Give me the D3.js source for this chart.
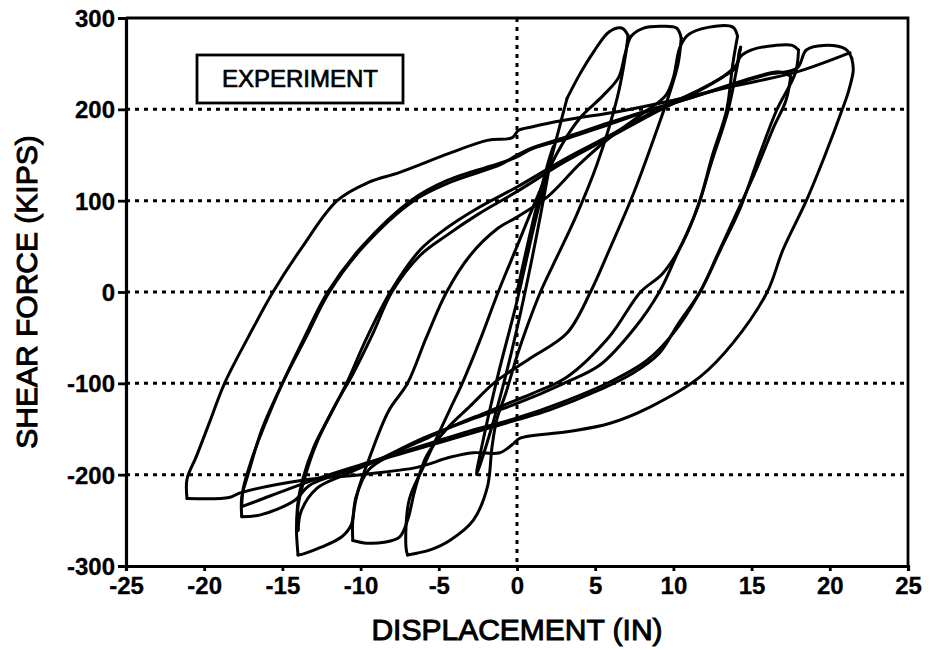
<!DOCTYPE html>
<html><head><meta charset="utf-8">
<script src="https://cdn.jsdelivr.net/npm/d3@7"></script>
<style>
body{margin:0;background:#fff;}
text{font-family:"Liberation Sans",Arial,Helvetica,sans-serif;fill:#000;}
</style></head>
<body><svg id="chart" width="931" height="650"></svg>
<script>
// ---- data (displacement in, shear force kips) ----
const xTicks = [-25,-20,-15,-10,-5,0,5,10,15,20,25];
const yTicks = [-300,-200,-100,0,100,200,300];
const gridY = [-200,-100,0,100,200];
const gridX = [0];
const legendLabel = "EXPERIMENT";
const xTitle = "DISPLACEMENT (IN)";
const yTitle = "SHEAR FORCE (KIPS)";

const smallCycles = [[0,0],[1.2,90],[2.3,160],[2.0,130],[1.0,40],[0,-40],[-1,-110],[-2,-170],[-2.6,-200],[-2.2,-165],[-1.2,-90],[0,-10],[1.2,80],[2.4,160],[3.2,212]];
const e_up1 = [[3.2,212],[4,238],[4.9,263],[5.9,285],[6.7,289],[7.1,281]];
const e_down1 = [[7.1,281],[6.9,255],[6.4,212],[5.1,139],[3.8,84],[2.6,40],[1.5,0],[0.6,-40],[0,-70],[-0.7,-110],[-1.3,-140],[-1.6,-170],[-1.9,-214],[-2.8,-250],[-4.3,-272],[-5.5,-282],[-6.4,-286],[-7,-288]];
const e_up2 = [[-7,-288],[-7.1,-279],[-6.9,-228],[-6,-192],[-4.3,-129],[-3.5,-100],[-2.3,-50],[-1.2,0],[0,50],[1.2,100],[2.5,150],[4,190],[5.5,215],[6.5,235],[6.9,260],[7.3,280],[8.1,289],[9.3,291],[10.2,289],[10.5,278]];
const d_down = [[10.5,278],[10.3,250],[9.8,220],[9,180],[7.5,110],[5.9,46],[4.7,0],[3.2,-45],[1,-71],[0,-82],[-1.5,-100],[-3,-125],[-4.5,-150],[-5.8,-180],[-6.5,-215],[-7,-250],[-7.5,-268],[-8.5,-274],[-9.6,-275],[-10.5,-272]];
const d_up = [[-10.5,-272],[-10.5,-250],[-10.2,-220],[-9.4,-180],[-8.2,-130],[-7,-100],[-5.8,-50],[-4.5,0],[-3,40],[-1.2,70],[0,82],[2,105],[4,140],[6,170],[8,195],[9.5,215],[10,235],[10.4,267],[10.9,281],[12.3,290],[13.8,290],[14.1,280]];
const c_down1 = [[14.1,280],[13.8,250],[13.4,199],[12.5,150],[11.7,101],[10.6,54],[9.3,20],[7.9,0],[5.9,-49],[3.2,-93],[1,-111],[0,-118],[-2,-132],[-4,-146],[-6,-162],[-8,-178],[-9.5,-195],[-10.3,-225],[-10.6,-255],[-11.2,-268],[-12.6,-280],[-13.7,-287],[-14,-288]];
const c_up1 = [[-14,-288],[-14.1,-260],[-14,-230],[-13.7,-205],[-13,-170],[-11.8,-130],[-10.9,-100],[-9.6,-50],[-8.1,0],[-6.2,46],[-4.5,70],[-2.5,92],[0,115],[3,145],[6,172],[9,200],[11.5,220],[13.2,236],[14,246],[14.2,262],[14.3,268]];
const c_down2 = [[14.3,268],[14,240],[13.5,199],[12.4,140],[11.5,90],[10.2,40],[9.1,0],[7.5,-40],[5.3,-80],[3,-100],[0,-122],[-3,-140],[-6,-160],[-9,-185],[-11,-200],[-12.8,-215],[-13.8,-240],[-14,-261]];
const c_up2 = [[-14,-261],[-14,-235],[-13.6,-205],[-12.8,-165],[-11.5,-120],[-10.5,-90],[-9.2,-45],[-8,0],[-6.2,40],[-4.5,62],[-2.5,85],[0,110],[3,142],[6,170],[9,198],[11.5,219],[13.2,236],[14,248],[14.3,258],[15,265],[16.5,270],[17.6,270],[18,265]];
const b_down1 = [[18,265],[17.8,240],[16.6,199],[15.5,150],[14.3,93],[13,46],[11.7,0],[10.3,-35],[9.1,-67],[7.4,-89],[5.3,-107],[2.1,-129],[0,-140],[-2,-150],[-5,-165],[-8,-180],[-11,-197],[-13.3,-212],[-14.2,-228],[-16.4,-244],[-17.6,-246]];
const b_up1 = [[-17.6,-246],[-17.6,-225],[-17.2,-200],[-16.3,-150],[-15,-100],[-13.6,-50],[-12.1,0],[-9.9,50],[-6.8,100],[-4.5,122],[-1.1,141],[0,148],[1,157],[3.2,168],[5.3,180],[8,196],[11,212],[14,229],[16.8,241],[17.5,236]];
const b_down2 = [[17.5,236],[17.2,210],[16.4,180],[15.2,130],[14,85],[12.8,40],[11.7,0],[10,-45],[8.3,-75],[6,-98],[3,-120],[0,-138],[-3,-152],[-6,-168],[-9,-184],[-12,-200],[-14.5,-215],[-16.5,-228],[-17.6,-235]];
const b_up2 = [[-17.6,-235],[-17.5,-215],[-16.9,-180],[-16,-140],[-15,-100],[-13.5,-50],[-12,0],[-9.8,50],[-6.6,100],[-4.3,120],[-1,140],[0,150],[1,158],[3.2,170],[5.3,182],[8,197],[11,212],[14,228],[16,238],[17.9,245],[18.5,265],[19.6,270],[21,266],[21.4,256]];
const a_down = [[21.4,256],[21.5,243],[21.2,220],[20.8,200],[19.7,150],[18.5,100],[17,46],[16,0],[13.8,-56],[11.7,-93],[8.5,-126],[5.9,-144],[3.2,-153],[0.2,-160],[-0.3,-167],[-1.1,-176],[-2.8,-176],[-4.3,-181],[-6.4,-192],[-10,-200],[-13.7,-206],[-17.7,-220],[-18.4,-225],[-21.1,-226]];
const a_up = [[-21.1,-226],[-21.1,-205],[-20.5,-180],[-19.6,-140],[-18.7,-100],[-17.2,-50],[-15.6,0],[-13.7,50],[-11.5,100],[-9.5,120],[-7.5,131],[-4.3,152],[-1.9,166],[-0.3,169],[0.1,177],[1,181],[3,188],[6.6,198],[10,210],[14,226],[17.9,241],[21.3,262]];

const segments = [smallCycles,e_up1,e_down1,e_up2,d_down,d_up,c_down1,c_up1,c_down2,c_up2,b_down1,b_up1,b_down2,b_up2,a_down,a_up];

// ---- layout ----
const svg = d3.select("#chart");
const L = 126, R = 908, T = 18, B = 566;
const x = d3.scaleLinear().domain([-25,25]).range([L,R]);
const y = d3.scaleLinear().domain([-300,300]).range([B,T]);

// grid
const grid = svg.append("g").attr("stroke","#000").attr("stroke-width",3).attr("stroke-dasharray","4,5");
grid.selectAll("line.gy").data(gridY).join("line").attr("class","gy")
  .attr("x1",L).attr("x2",R).attr("y1",d=>y(d)).attr("y2",d=>y(d));
grid.selectAll("line.gx").data(gridX).join("line").attr("class","gx")
  .attr("x1",d=>x(d)).attr("x2",d=>x(d)).attr("y1",T).attr("y2",B);

// curves
const line = d3.line().x(d=>x(d[0])).y(d=>y(d[1])).curve(d3.curveCatmullRom.alpha(0.5));
svg.append("g").selectAll("path").data(segments).join("path")
  .attr("d",line).attr("fill","none").attr("stroke","#000")
  .attr("stroke-width",3).attr("stroke-linejoin","round").attr("stroke-linecap","round");

// frame
svg.append("path").attr("d",`M${L},${T}H${R}V${B}`).attr("fill","none").attr("stroke","#000").attr("stroke-width",2.8);

// axes
const yAxis = svg.append("g").attr("transform",`translate(${L},0)`)
  .call(d3.axisLeft(y).tickValues(yTicks).tickSize(8).tickPadding(3).tickFormat(d=>String(d)));
const xAxis = svg.append("g").attr("transform",`translate(0,${B})`)
  .call(d3.axisBottom(x).tickValues(xTicks).tickSize(5).tickPadding(6).tickFormat(d=>String(d)));
[yAxis,xAxis].forEach(g=>{
  g.select(".domain").attr("stroke","#000").attr("stroke-width",3.2);
  g.selectAll(".tick line").attr("stroke","#000").attr("stroke-width",2.8);
  g.selectAll(".tick text").attr("font-size",24).attr("font-weight","bold")
   .attr("font-family","Liberation Sans, Arial, sans-serif")
   .attr("stroke","#000").attr("stroke-width",0.3).attr("fill","#000");
});
yAxis.selectAll(".tick text").attr("dy","0.36em");
xAxis.selectAll(".tick text").attr("dy","0.72em");

// titles
svg.append("text").attr("x",(L+R)/2).attr("y",640).attr("text-anchor","middle")
  .attr("font-size",30).attr("stroke","#000").attr("stroke-width",1).text(xTitle);
svg.append("text").attr("transform",`translate(37,${(T+B)/2}) rotate(-90)`).attr("text-anchor","middle")
  .attr("font-size",30).attr("stroke","#000").attr("stroke-width",1).text(yTitle);

// legend box
svg.append("rect").attr("x",197).attr("y",55).attr("width",206).attr("height",48)
  .attr("fill","#fff").attr("stroke","#000").attr("stroke-width",2.8);
svg.append("text").attr("x",300).attr("y",87).attr("text-anchor","middle")
  .attr("font-size",24).attr("stroke","#000").attr("stroke-width",0.7).text(legendLabel);
</script></body></html>
